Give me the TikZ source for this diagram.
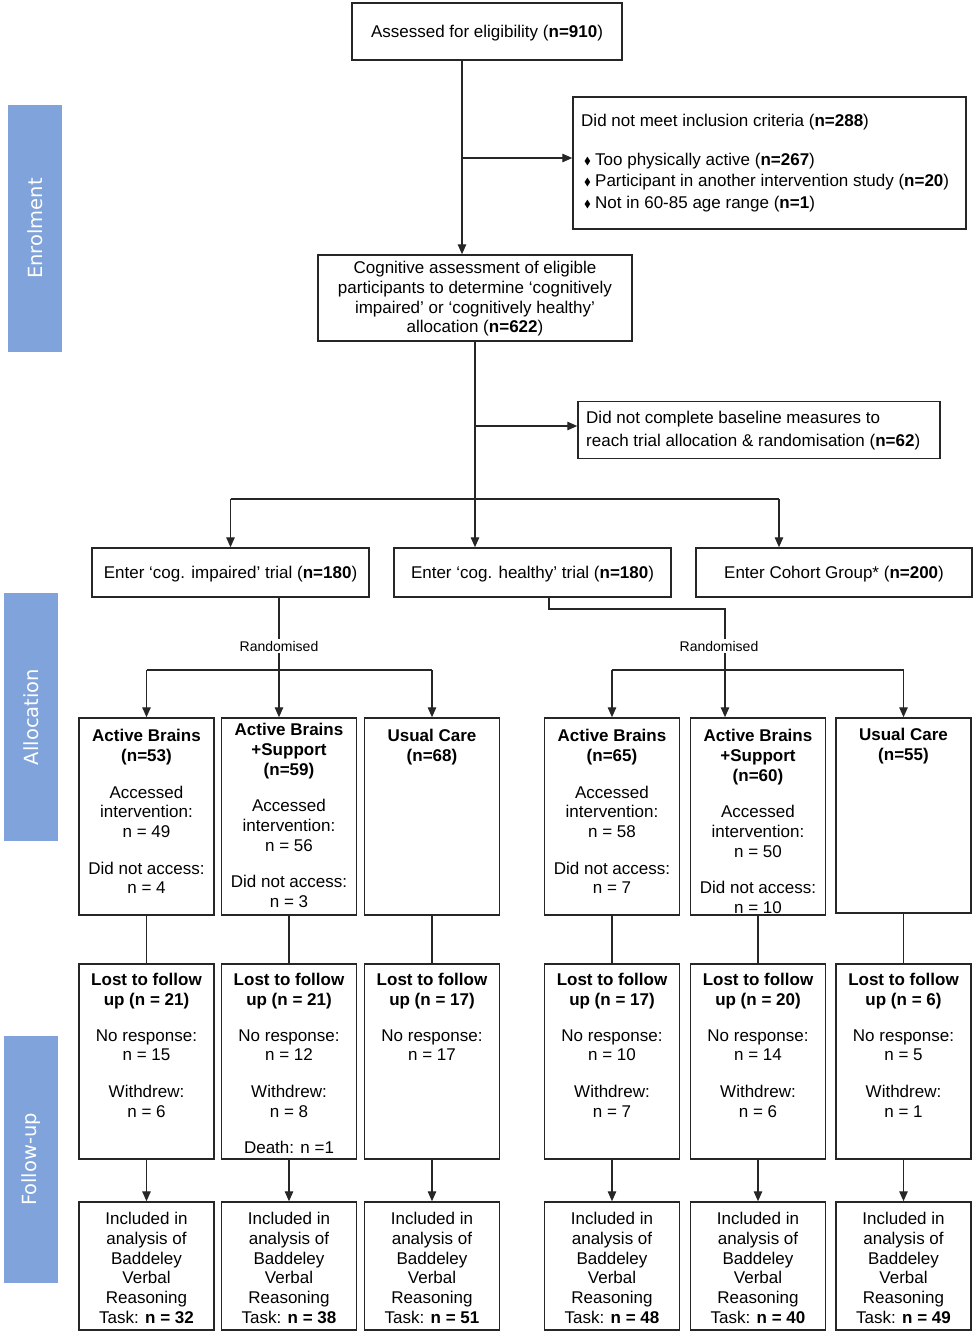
\documentclass[tikz,border=0pt]{standalone}
\usepackage{fontspec}
\usepackage{amssymb}
\setmainfont{Liberation Sans}
\newfontfamily\barfont{DejaVu Sans}
\usetikzlibrary{arrows.meta,calc}
\definecolor{barblue}{HTML}{7FA3DA}
\definecolor{ln}{HTML}{262626}
\newcommand\bul{\makebox[11pt][l]{\raisebox{0.5pt}{\scalebox{0.6}{$\blacklozenge$}}}}
\begin{document}
\begin{tikzpicture}[x=1pt,y=-1pt,
 box/.style={draw=ln, line width=1.5pt, inner sep=0pt, fill=white},
 txt/.style={inner sep=0pt, align=center, font=\fontsize{17}{19.7}\selectfont, anchor=north},
 conn/.style={draw=ln, line width=1.4pt},
 arr/.style={conn, -{Triangle[length=10pt,width=8.5pt]}},
 bar/.style={fill=barblue, draw=none, inner sep=0pt},
 bartxt/.style={text=white, font=\barfont\fontsize{19.5}{22}\selectfont, rotate=90, inner sep=0pt},
 rnd/.style={fill=white, inner sep=1.5pt, font=\fontsize{14}{16}\selectfont}
]
\useasboundingbox (0,0) rectangle (979,1339);

% side bars
\node[bar, minimum width=54, minimum height=247] (bE) at (35,228.5) {};
\node[bartxt] (tE) at (bE.center) {Enrolment};
\node[bar, minimum width=54, minimum height=248] (bA) at (31,717) {};
\node[bartxt] (tA) at (bA.center) {Allocation};
\node[bar, minimum width=54, minimum height=247] (bF) at (31,1159.5) {};
\node[bartxt] (tF) at (bF.center) {Follow-up};

% top boxes
\node[box, minimum width=270, minimum height=57] (elig) at (487,31.5) {};
\node[txt, anchor=center] (teli) at ($(elig.center)+(0,2)$) {Assessed for eligibility (\textbf{n=910})};

\node[box, minimum width=393, minimum height=132] (excl) at (769.5,163) {};
\node[txt, anchor=base west] (tex0) at (581,126) {Did not meet inclusion criteria (\textbf{n=288})};
\node[txt, anchor=base west] (tex1) at (584,165) {\bul Too physically active (\textbf{n=267})};
\node[txt, anchor=base west] (tex2) at (584,186) {\bul Participant in another intervention study (\textbf{n=20})};
\node[txt, anchor=base west] (tex3) at (584,208) {\bul Not in 60-85 age range (\textbf{n=1})};

\node[box, minimum width=314, minimum height=86] (cog) at (475,298) {};
\node[txt, anchor=center] (tcog) at ($(cog.center)+(0,1)$) {Cognitive assessment of eligible\\participants to determine ‘cognitively\\impaired’ or ‘cognitively healthy’\\allocation (\textbf{n=622})};

\node[box, minimum width=362, minimum height=57] (base) at (759,430) {};
\node[txt, anchor=west, align=left, font=\fontsize{17}{23}\selectfont] (tbase) at (586,431) {Did not complete baseline measures to\\reach trial allocation \& randomisation (\textbf{n=62})};

\node[box, minimum width=277, minimum height=49] (imp) at (230.5,572.5) {};
\node[txt, anchor=center] (timp) at ($(imp.center)+(0,2)$) {Enter ‘cog. impaired’ trial (\textbf{n=180})};
\node[box, minimum width=277, minimum height=49] (hea) at (532.5,572.5) {};
\node[txt, anchor=center] (thea) at ($(hea.center)+(0,2)$) {Enter ‘cog. healthy’ trial (\textbf{n=180})};
\node[box, minimum width=276, minimum height=49] (coh) at (834,572.5) {};
\node[txt, anchor=center] (tcoh) at ($(coh.center)+(0,2)$) {Enter Cohort Group* (\textbf{n=200})};

% row 1
\node[box, minimum width=135, minimum height=197] (a1) at (146.5,816.5) {};
\node[box, minimum width=135, minimum height=197] (b1) at (289,816.5) {};
\node[box, minimum width=135, minimum height=197] (c1) at (432,816.5) {};
\node[box, minimum width=135, minimum height=197] (d1) at (612,816.5) {};
\node[box, minimum width=135, minimum height=197] (e1) at (758,816.5) {};
\node[box, minimum width=135, minimum height=195] (f1) at (903.5,815.5) {};
\node[txt] (ta1) at ($(a1.north)+(0,12)$) {\textbf{Active Brains}\\\textbf{(n=53)}\\[17pt]Accessed\\intervention:\\n = 49\\[17pt]Did not access:\\n = 4};
\node[txt] (tb1) at ($(b1.north)+(0,6)$) {\textbf{Active Brains}\\\textbf{+Support}\\\textbf{(n=59)}\\[17pt]Accessed\\intervention:\\n = 56\\[17pt]Did not access:\\n = 3};
\node[txt] (tc1) at ($(c1.north)+(0,12)$) {\textbf{Usual Care}\\\textbf{(n=68)}};
\node[txt] (td1) at ($(d1.north)+(0,12)$) {\textbf{Active Brains}\\\textbf{(n=65)}\\[17pt]Accessed\\intervention:\\n = 58\\[17pt]Did not access:\\n = 7};
\node[txt] (te1) at ($(e1.north)+(0,12)$) {\textbf{Active Brains}\\\textbf{+Support}\\\textbf{(n=60)}\\[17pt]Accessed\\intervention:\\n = 50\\[17pt]Did not access:\\n = 10};
\node[txt] (tf1) at ($(f1.north)+(0,11)$) {\textbf{Usual Care}\\\textbf{(n=55)}};

% row 2
\node[box, minimum width=135, minimum height=195] (a2) at (146.5,1061.5) {};
\node[box, minimum width=135, minimum height=195] (b2) at (289,1061.5) {};
\node[box, minimum width=135, minimum height=195] (c2) at (432,1061.5) {};
\node[box, minimum width=135, minimum height=195] (d2) at (612,1061.5) {};
\node[box, minimum width=135, minimum height=195] (e2) at (758,1061.5) {};
\node[box, minimum width=135, minimum height=195] (f2) at (903.5,1061.5) {};
\node[txt] (ta2) at ($(a2.north)+(0,10)$) {\textbf{Lost to follow}\\\textbf{up (n = 21)}\\[16pt]No response:\\n = 15\\[17pt]Withdrew:\\n = 6};
\node[txt] (tb2) at ($(b2.north)+(0,10)$) {\textbf{Lost to follow}\\\textbf{up (n = 21)}\\[16pt]No response:\\n = 12\\[17pt]Withdrew:\\n = 8\\[17pt]Death: n =1};
\node[txt] (tc2) at ($(c2.north)+(0,10)$) {\textbf{Lost to follow}\\\textbf{up (n = 17)}\\[16pt]No response:\\n = 17};
\node[txt] (td2) at ($(d2.north)+(0,10)$) {\textbf{Lost to follow}\\\textbf{up (n = 17)}\\[16pt]No response:\\n = 10\\[17pt]Withdrew:\\n = 7};
\node[txt] (te2) at ($(e2.north)+(0,10)$) {\textbf{Lost to follow}\\\textbf{up (n = 20)}\\[16pt]No response:\\n = 14\\[17pt]Withdrew:\\n = 6};
\node[txt] (tf2) at ($(f2.north)+(0,10)$) {\textbf{Lost to follow}\\\textbf{up (n = 6)}\\[16pt]No response:\\n = 5\\[17pt]Withdrew:\\n = 1};

% row 3
\node[box, minimum width=135, minimum height=128] (a3) at (146.5,1266) {};
\node[box, minimum width=135, minimum height=128] (b3) at (289,1266) {};
\node[box, minimum width=135, minimum height=128] (c3) at (432,1266) {};
\node[box, minimum width=135, minimum height=128] (d3) at (612,1266) {};
\node[box, minimum width=135, minimum height=128] (e3) at (758,1266) {};
\node[box, minimum width=135, minimum height=128] (f3) at (903.5,1266) {};
\node[txt] (ta3) at ($(a3.north)+(0,11)$) {Included in\\analysis of\\Baddeley\\Verbal\\Reasoning\\Task: \textbf{n = 32}};
\node[txt] (tb3) at ($(b3.north)+(0,11)$) {Included in\\analysis of\\Baddeley\\Verbal\\Reasoning\\Task: \textbf{n = 38}};
\node[txt] (tc3) at ($(c3.north)+(0,11)$) {Included in\\analysis of\\Baddeley\\Verbal\\Reasoning\\Task: \textbf{n = 51}};
\node[txt] (td3) at ($(d3.north)+(0,11)$) {Included in\\analysis of\\Baddeley\\Verbal\\Reasoning\\Task: \textbf{n = 48}};
\node[txt] (te3) at ($(e3.north)+(0,11)$) {Included in\\analysis of\\Baddeley\\Verbal\\Reasoning\\Task: \textbf{n = 40}};
\node[txt] (tf3) at ($(f3.north)+(0,11)$) {Included in\\analysis of\\Baddeley\\Verbal\\Reasoning\\Task: \textbf{n = 49}};

% connectors top
\coordinate (j1) at (462,158);
\draw[arr] (j1 |- elig.south) -- (j1 |- cog.north);
\draw[arr] (j1) -- (j1 -| excl.west);
\coordinate (j2) at (475,426);
\draw[arr] (cog.south) -- (j2 |- hea.north);
\draw[arr] (j2) -- (j2 -| base.west);
\coordinate (j3) at (475,499);
\coordinate (j4) at (779,499);
\draw[conn] (j3 -| imp.north) -- (j4);
\draw[arr] (j3 -| imp.north) -- (imp.north);
\draw[arr] (j4) -- (j4 |- coh.north);

% randomisation left
\coordinate (r1) at (279,670);
\draw[conn] (r1 |- imp.south) -- (r1);
\draw[conn] (r1 -| a1.north) -- (r1 -| c1.north);
\draw[arr] (r1 -| a1.north) -- (a1.north);
\draw[arr] (r1) -- (r1 |- b1.north);
\draw[arr] (r1 -| c1.north) -- (c1.north);
\node[rnd] (rl) at (279,646) {Randomised};

% randomisation right
\coordinate (r2) at (725,670);
\coordinate (k1) at (549,609);
\draw[conn] (k1 |- hea.south) -- (k1) -- (k1 -| r2) -- (r2);
\draw[conn] (r2 -| d1.north) -- (r2 -| f1.north);
\draw[arr] (r2 -| d1.north) -- (d1.north);
\draw[arr] (r2) -- (r2 |- e1.north);
\draw[arr] (r2 -| f1.north) -- (f1.north);
\node[rnd] (rr) at (719,646) {Randomised};

% row links
\foreach \c in {a,b,c,d,e,f}{
  \draw[conn] (\c1.south) -- (\c2.north);
  \draw[arr] (\c2.south) -- (\c3.north);
}
\end{tikzpicture}
\end{document}
